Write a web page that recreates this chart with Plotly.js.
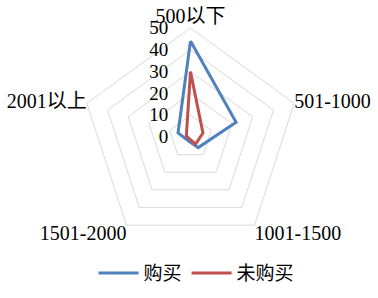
<!DOCTYPE html>
<html>
<head>
<meta charset="utf-8">
<script src="https://cdn.plot.ly/plotly-3.0.1.min.js"></script>
<style>html,body{margin:0;padding:0;background:#fff;}#chart{width:378px;height:298px;}</style>
</head>
<body>
<div id="chart"></div>
<script>
const categories = ["500以下", "501-1000", "1001-1500", "1501-2000", "2001以上"];
const buyValues = [44, 22, 6, 2, 6];
const noBuyValues = [30, 6, 4, 1, 2];
const radialTicks = [0, 10, 20, 30, 40, 50];

const FONT = "'Liberation Serif', 'Times New Roman', 'Noto Sans CJK SC', serif";
const PAD = '\u00a0\u00a0\u00a0\u00a0';

function closed(a){ return a.concat([a[0]]); }

const traces = [
  {type:'scatterpolar', mode:'lines', name:'购买', r:closed(buyValues), theta:closed(categories),
   line:{color:'#4F81BD', width:3}},
  {type:'scatterpolar', mode:'lines', name:'未购买', r:closed(noBuyValues), theta:closed(categories),
   line:{color:'#C0504D', width:3}},
  {type:'scatterpolar', mode:'text', showlegend:false, hoverinfo:'skip', cliponaxis:false,
   r:categories.map(()=>50), theta:categories, text:categories,
   textposition:['top center','middle right','bottom right','bottom left','middle left'],
   textfont:{family:FONT, size:20, color:'#000'}}
];

const layout = {
  width:378, height:298,
  margin:{l:0,r:0,t:0,b:0},
  paper_bgcolor:'#fff',
  font:{family:FONT, size:19, color:'#000'},
  showlegend:true,
  legend:{orientation:'h', x:0.52, xanchor:'center', y:0.02, yanchor:'bottom',
          font:{family:FONT, size:19, color:'#000'}, itemwidth:40},
  polar:{
    domain:{x:[0.2156,0.7923], y:[0.1745,0.906]},
    bgcolor:'#fff',
    gridshape:'linear',
    angularaxis:{direction:'clockwise', rotation:90, showgrid:false, showline:true,
                 linecolor:'#d9d9d9', linewidth:1, showticklabels:false,
                 ticks:'', tickfont:{family:FONT, size:19, color:'#000'}},
    radialaxis:{range:[0,50], tickvals:radialTicks, ticktext:radialTicks.map(v=>String(v)+PAD),
                angle:90, tickangle:90, showline:false, ticks:'', gridcolor:'#d9d9d9', gridwidth:1,
                side:'counterclockwise', tickfont:{family:FONT, size:19, color:'#000'}}
  }
};

Plotly.newPlot('chart', traces, layout, {displayModeBar:false, staticPlot:true});
</script>
</body>
</html>
